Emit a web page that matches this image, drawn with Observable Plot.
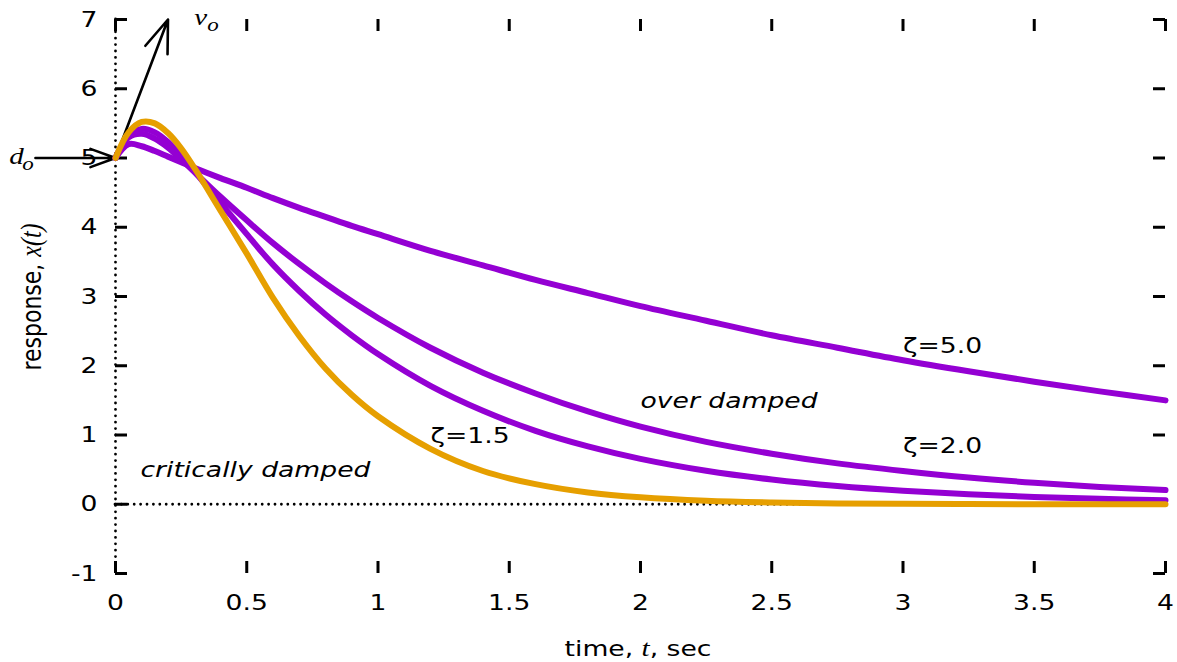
<!DOCTYPE html>
<html><head><meta charset="utf-8">
<script src="https://cdn.jsdelivr.net/npm/d3@7"></script>
<script src="https://cdn.jsdelivr.net/npm/@observablehq/plot@0.6"></script>
<style>html,body{margin:0;padding:0;background:#fff;}</style>
</head><body><div id="chart"></div>
<script>
// time samples (sec)
const time = [0, 0.05, 0.1, 0.15, 0.2, 0.25, 0.3, 0.4, 0.5, 0.6, 0.7, 0.8, 0.9, 1.0, 1.2, 1.4, 1.6, 1.8, 2.0, 2.25, 2.5, 2.75, 3.0, 3.25, 3.5, 3.75, 4.0];
// responses
const critical = [5.00, 5.37, 5.52, 5.50, 5.36, 5.14, 4.86, 4.24, 3.62, 2.98, 2.43, 1.96, 1.58, 1.27, 0.80, 0.48, 0.29, 0.17, 0.10, 0.05, 0.025, 0.012, 0.006, 0.003, 0.001, 0.0, 0.0];
const zeta15 = [5.00, 5.32, 5.42, 5.37, 5.23, 5.03, 4.81, 4.35, 3.90, 3.46, 3.08, 2.74, 2.44, 2.17, 1.71, 1.35, 1.06, 0.835, 0.655, 0.483, 0.357, 0.263, 0.194, 0.143, 0.106, 0.078, 0.058];
const zeta20 = [5.00, 5.30, 5.35, 5.28, 5.15, 4.98, 4.80, 4.44, 4.10, 3.77, 3.47, 3.19, 2.93, 2.69, 2.26, 1.90, 1.60, 1.34, 1.12, 0.90, 0.73, 0.59, 0.48, 0.385, 0.31, 0.25, 0.205];
const zeta50 = [5.00, 5.20, 5.17, 5.10, 5.02, 4.94, 4.86, 4.71, 4.57, 4.42, 4.28, 4.15, 4.02, 3.90, 3.66, 3.45, 3.24, 3.05, 2.86, 2.65, 2.44, 2.26, 2.08, 1.92, 1.77, 1.63, 1.50];

const xTicks = [0, 0.5, 1, 1.5, 2, 2.5, 3, 3.5, 4];
const yTicks = [-1, 0, 1, 2, 3, 4, 5, 6, 7];

// annotations: text, t position, response position
const curveLabels = [
  {text: "ζ=5.0", t: 3.0, v: 2.29},
  {text: "ζ=2.0", t: 3.0, v: 0.84},
  {text: "ζ=1.5", t: 1.2, v: 0.99}
];
const regionLabels = [
  {text: "over damped", t: 2.0, v: 1.49},
  {text: "critically damped", t: 0.095, v: 0.50}
];
// initial-condition arrows
const arrows = [
  {name: "v", x1: 0, y1: 5, x2: 0.2, y2: 7.0},
  {name: "d", x1: -0.305, y1: 5, x2: 0, y2: 5}
];
const arrowLabels = [
  {main: "v", sub: "o", t: 0.30, v: 6.92},
  {main: "d", sub: "o", t: -0.405, v: 4.91}
];

const purpleRows = [
  ...time.map((t, i) => ({t, v: zeta15[i], s: "1.5"})),
  ...time.map((t, i) => ({t, v: zeta20[i], s: "2.0"})),
  ...time.map((t, i) => ({t, v: zeta50[i], s: "5.0"}))
];
const orangeRows = time.map((t, i) => ({t, v: critical[i]}));

const W = 1177, H = 662, mL = 115, mR = 12, mT = 19, mB = 89;
const iW = W - mL - mR, iH = H - mT - mB;
const TL = 12;
const FS = 22;      // font size
const SX = 1.21;    // horizontal text stretch seen in the reference
const dotted = {stroke: "#000", strokeWidth: 2.8, strokeDasharray: "0 6.4", strokeLinecap: "round"};
const serif = "Liberation Serif, Times New Roman, serif";

const plot = Plot.plot({
  width: W, height: H,
  marginLeft: mL, marginRight: mR, marginTop: mT, marginBottom: mB,
  x: {domain: [0, 4]},
  y: {domain: [-1, 7]},
  style: {fontFamily: "DejaVu Sans, sans-serif", fontSize: FS + "px", background: "#fff", color: "#000", overflow: "visible"},
  marks: [
    Plot.ruleX([0], dotted),
    Plot.ruleY([0], dotted),
    Plot.tickX(xTicks, {x: d => d, insetTop: iH - TL, stroke: "#000", strokeWidth: 3}),
    Plot.tickX(xTicks, {x: d => d, insetBottom: iH - TL, stroke: "#000", strokeWidth: 3}),
    Plot.tickY(yTicks, {y: d => d, insetRight: iW - TL, stroke: "#000", strokeWidth: 3}),
    Plot.tickY(yTicks, {y: d => d, insetLeft: iW - TL, stroke: "#000", strokeWidth: 3}),
    Plot.axisX({ticks: xTicks, tickSize: 0, tickPadding: 21, tickFormat: d => String(d), label: null, fontSize: FS}),
    Plot.axisY({ticks: yTicks, tickSize: 0, tickPadding: 18, tickFormat: d => String(d), label: null, fontSize: FS}),
    Plot.arrow(arrows, {x1: "x1", y1: "y1", x2: "x2", y2: "y2", stroke: "#000", strokeWidth: 2.6, headLength: 20, headAngle: 40}),
    Plot.line(purpleRows, {x: "t", y: "v", z: "s", stroke: "#9400d3", strokeWidth: 6, curve: "catmull-rom"}),
    Plot.line(orangeRows, {x: "t", y: "v", stroke: "#e69f00", strokeWidth: 6, curve: "catmull-rom"}),
    Plot.text(curveLabels, {x: "t", y: "v", text: "text", textAnchor: "start", lineAnchor: "middle", fontSize: FS, fill: "#000"}),
    Plot.text(regionLabels, {x: "t", y: "v", text: "text", textAnchor: "start", lineAnchor: "middle", fontSize: FS, fontStyle: "italic", fill: "#000"}),
    Plot.text(arrowLabels, {x: "t", y: "v", text: "main", textAnchor: "start", lineAnchor: "bottom", fontSize: 24, fontStyle: "italic", fontFamily: serif, fill: "#000"}),
    Plot.text(arrowLabels, {x: "t", y: "v", text: "sub", textAnchor: "start", lineAnchor: "bottom", dx: 13, dy: 6, fontSize: 19, fontStyle: "italic", fontFamily: serif, fill: "#000"})
  ]
});

const svg = d3.select(plot);
// stretch every text horizontally about its own anchor point
svg.selectAll("text").each(function() {
  const el = d3.select(this);
  const x = +el.attr("x") || 0, y = +el.attr("y") || 0;
  const tr = el.attr("transform") || "";
  el.attr("transform", `${tr} translate(${x},${y}) scale(${SX},1) translate(${-x},${-y})`);
});
// x-axis title
const xl = svg.append("text")
  .attr("transform", `translate(638,656) scale(${SX},1)`)
  .attr("text-anchor", "middle")
  .attr("font-size", FS).attr("fill", "#000");
xl.append("tspan").text("time, ");
xl.append("tspan").attr("font-family", serif).attr("font-style", "italic").attr("font-size", 24).text("t");
xl.append("tspan").text(", sec");
// y-axis title
const yl = svg.append("text")
  .attr("transform", `translate(41,297) scale(${SX},1) rotate(-90)`)
  .attr("text-anchor", "middle")
  .attr("font-size", FS).attr("fill", "#000");
yl.append("tspan").text("response, ");
yl.append("tspan").attr("font-family", serif).attr("font-style", "italic").attr("font-size", 24).text("x(t)");

document.getElementById("chart").appendChild(plot);
</script>
</body></html>
